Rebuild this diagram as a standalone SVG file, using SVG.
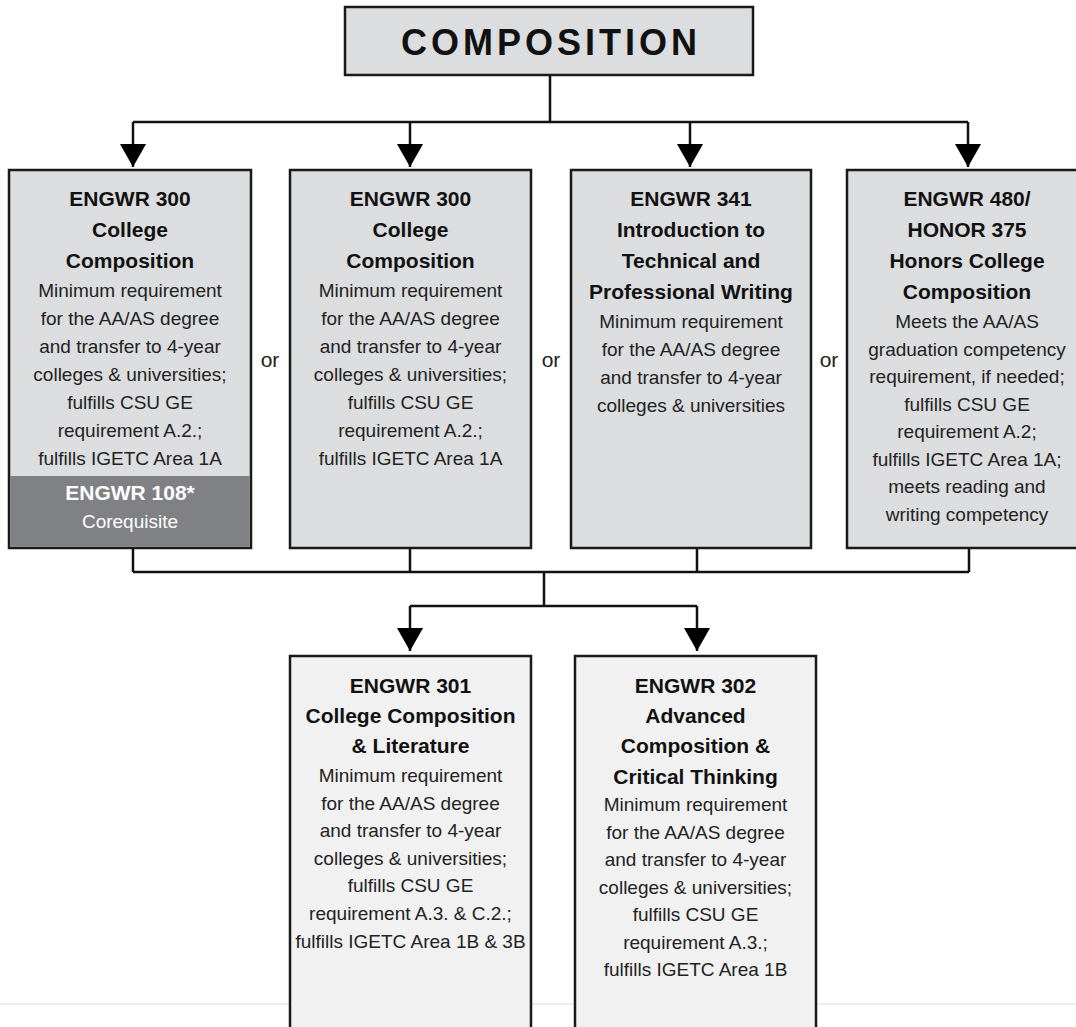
<svg xmlns="http://www.w3.org/2000/svg" width="1076" height="1027" viewBox="0 0 1076 1027">
<style>
.box{fill:#dcdddf;stroke:#1a1a1a;stroke-width:2.5}
.lbox{fill:#f1f1f1;stroke:#1a1a1a;stroke-width:2.5}
.b{font-family:"Liberation Sans",Arial,sans-serif;font-weight:bold;font-size:21px;fill:#111;text-anchor:middle}
.r{font-family:"Liberation Sans",Arial,sans-serif;font-size:19px;fill:#222;text-anchor:middle}
.w{fill:#fff}
.or{font-family:"Liberation Sans",Arial,sans-serif;font-size:21px;fill:#222;text-anchor:middle}
.ln{fill:none;stroke:#111;stroke-width:2.5}
</style>
<defs>
<marker id="ah" viewBox="0 0 23 26" refX="23" refY="13" markerWidth="23" markerHeight="26" markerUnits="userSpaceOnUse" orient="auto">
<path d="M0,0 L23,13 L0,26 z" fill="#000"/>
</marker>
</defs>
<rect width="1076" height="1027" fill="#fff"/>
<line x1="0" y1="1004" x2="1076" y2="1004" stroke="#e8e8e8" stroke-width="1.5"/>

<g id="connectors">
<path class="ln" d="M550,75 V122 M133,122 H968"/>
<line class="ln" x1="133" y1="122" x2="133" y2="167" marker-end="url(#ah)"/>
<line class="ln" x1="410" y1="122" x2="410" y2="167" marker-end="url(#ah)"/>
<line class="ln" x1="690" y1="122" x2="690" y2="167" marker-end="url(#ah)"/>
<line class="ln" x1="968" y1="122" x2="968" y2="167" marker-end="url(#ah)"/>
<path class="ln" d="M133,547 V572 M410,547 V572 M697,547 V572 M969,547 V572 M133,572 H969 M544,572 V606 M410,606 H697"/>
<line class="ln" x1="410" y1="606" x2="410" y2="651" marker-end="url(#ah)"/>
<line class="ln" x1="697" y1="606" x2="697" y2="651" marker-end="url(#ah)"/>
</g>

<g id="title">
<rect class="box" x="345" y="7" width="408" height="68"/>
<text x="551" y="55" font-family="Liberation Sans,Arial,sans-serif" font-weight="bold" font-size="36" letter-spacing="4" text-anchor="middle" fill="#111">COMPOSITION</text>
</g>

<g id="engwr300a">
<rect class="box" x="9" y="170" width="242" height="378"/>
<rect x="10.25" y="476" width="239.5" height="70.75" fill="#808184"/>
<text class="b" x="130" y="206">ENGWR 300</text>
<text class="b" x="130" y="237">College</text>
<text class="b" x="130" y="268">Composition</text>
<text class="r" x="130" y="297">Minimum requirement</text>
<text class="r" x="130" y="325">for the AA/AS degree</text>
<text class="r" x="130" y="353">and transfer to 4-year</text>
<text class="r" x="130" y="381">colleges &amp; universities;</text>
<text class="r" x="130" y="409">fulfills CSU GE</text>
<text class="r" x="130" y="437">requirement A.2.;</text>
<text class="r" x="130" y="465">fulfills IGETC Area 1A</text>
<text class="b w" x="130" y="500">ENGWR 108*</text>
<text class="r w" x="130" y="528">Corequisite</text>
</g>

<g id="or1"><text class="or" x="270" y="367">or</text></g>

<g id="engwr300b">
<rect class="box" x="290" y="170" width="241" height="378"/>
<text class="b" x="410.5" y="206">ENGWR 300</text>
<text class="b" x="410.5" y="237">College</text>
<text class="b" x="410.5" y="268">Composition</text>
<text class="r" x="410.5" y="297">Minimum requirement</text>
<text class="r" x="410.5" y="325">for the AA/AS degree</text>
<text class="r" x="410.5" y="353">and transfer to 4-year</text>
<text class="r" x="410.5" y="381">colleges &amp; universities;</text>
<text class="r" x="410.5" y="409">fulfills CSU GE</text>
<text class="r" x="410.5" y="437">requirement A.2.;</text>
<text class="r" x="410.5" y="465">fulfills IGETC Area 1A</text>
</g>

<g id="or2"><text class="or" x="551" y="367">or</text></g>

<g id="engwr341">
<rect class="box" x="571" y="170" width="240" height="378"/>
<text class="b" x="691" y="206">ENGWR 341</text>
<text class="b" x="691" y="237">Introduction to</text>
<text class="b" x="691" y="268">Technical and</text>
<text class="b" x="691" y="299">Professional Writing</text>
<text class="r" x="691" y="328">Minimum requirement</text>
<text class="r" x="691" y="356">for the AA/AS degree</text>
<text class="r" x="691" y="384">and transfer to 4-year</text>
<text class="r" x="691" y="412">colleges &amp; universities</text>
</g>

<g id="or3"><text class="or" x="829" y="367">or</text></g>

<g id="engwr480">
<rect class="box" x="847" y="170" width="235" height="378"/>
<text class="b" x="967" y="206">ENGWR 480/</text>
<text class="b" x="967" y="237">HONOR 375</text>
<text class="b" x="967" y="268">Honors College</text>
<text class="b" x="967" y="299">Composition</text>
<text class="r" x="967" y="328">Meets the AA/AS</text>
<text class="r" x="967" y="356">graduation competency</text>
<text class="r" x="967" y="383">requirement, if needed;</text>
<text class="r" x="967" y="411">fulfills CSU GE</text>
<text class="r" x="967" y="438">requirement A.2;</text>
<text class="r" x="967" y="466">fulfills IGETC Area 1A;</text>
<text class="r" x="967" y="493">meets reading and</text>
<text class="r" x="967" y="521">writing competency</text>
</g>

<g id="engwr301">
<rect class="lbox" x="290" y="656" width="241" height="390"/>
<text class="b" x="410.5" y="693">ENGWR 301</text>
<text class="b" x="410.5" y="723">College Composition</text>
<text class="b" x="410.5" y="753">&amp; Literature</text>
<text class="r" x="410.5" y="782">Minimum requirement</text>
<text class="r" x="410.5" y="810">for the AA/AS degree</text>
<text class="r" x="410.5" y="837">and transfer to 4-year</text>
<text class="r" x="410.5" y="865">colleges &amp; universities;</text>
<text class="r" x="410.5" y="892">fulfills CSU GE</text>
<text class="r" x="410.5" y="920">requirement A.3. &amp; C.2.;</text>
<text class="r" x="410.5" y="948">fulfills IGETC Area 1B &amp; 3B</text>
</g>

<g id="engwr302">
<rect class="lbox" x="575" y="656" width="241" height="390"/>
<text class="b" x="695.5" y="693">ENGWR 302</text>
<text class="b" x="695.5" y="723">Advanced</text>
<text class="b" x="695.5" y="753">Composition &amp;</text>
<text class="b" x="695.5" y="784">Critical Thinking</text>
<text class="r" x="695.5" y="811">Minimum requirement</text>
<text class="r" x="695.5" y="839">for the AA/AS degree</text>
<text class="r" x="695.5" y="866">and transfer to 4-year</text>
<text class="r" x="695.5" y="894">colleges &amp; universities;</text>
<text class="r" x="695.5" y="921">fulfills CSU GE</text>
<text class="r" x="695.5" y="949">requirement A.3.;</text>
<text class="r" x="695.5" y="976">fulfills IGETC Area 1B</text>
</g>
</svg>
